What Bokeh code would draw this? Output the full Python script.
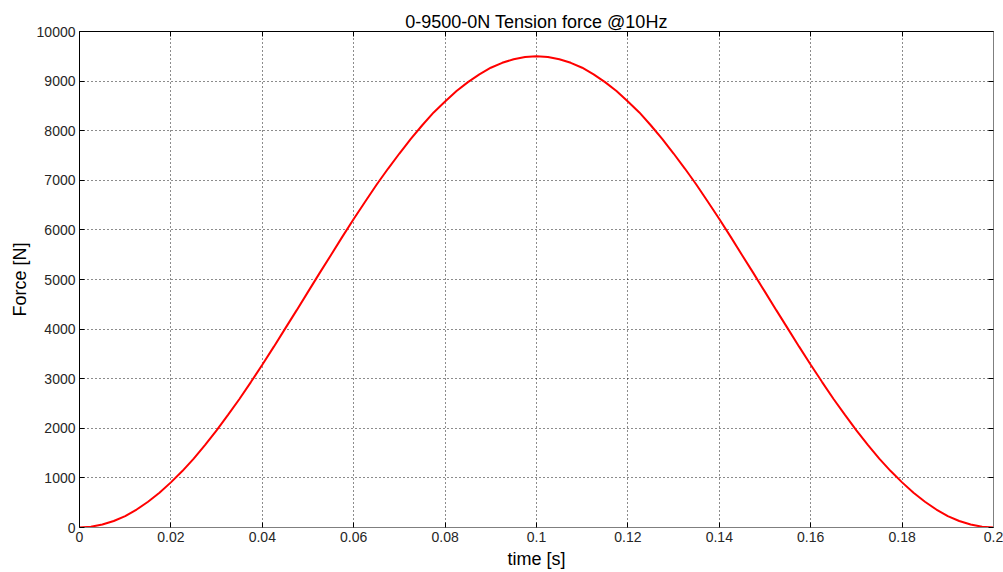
from bokeh.plotting import figure
from bokeh.models import LinearAxis, FixedTicker, Range1d
from bokeh.embed import file_html
from bokeh.resources import INLINE

title_text = "0-9500-0N Tension force @10Hz"
x_label = "time [s]"
y_label = "Force [N]"

time_s = [0.0, 0.0025, 0.005, 0.0075, 0.01, 0.0125, 0.015, 0.0175, 0.02, 0.0225,
          0.025, 0.0275, 0.03, 0.0325, 0.035, 0.0375, 0.04, 0.0425, 0.045, 0.0475,
          0.05, 0.0525, 0.055, 0.0575, 0.06, 0.0625, 0.065, 0.0675, 0.07, 0.0725,
          0.075, 0.0775, 0.08, 0.0825, 0.085, 0.0875, 0.09, 0.0925, 0.095, 0.0975,
          0.1, 0.1025, 0.105, 0.1075, 0.11, 0.1125, 0.115, 0.1175, 0.12, 0.1225,
          0.125, 0.1275, 0.13, 0.1325, 0.135, 0.1375, 0.14, 0.1425, 0.145, 0.1475,
          0.15, 0.1525, 0.155, 0.1575, 0.16, 0.1625, 0.165, 0.1675, 0.17, 0.1725,
          0.175, 0.1775, 0.18, 0.1825, 0.185, 0.1875, 0.19, 0.1925, 0.195, 0.1975,
          0.2]
force_n = [0, 15, 60, 131, 230, 362, 520, 700, 910, 1138,
           1390, 1665, 1960, 2269, 2590, 2932, 3280, 3641, 4010, 4377,
           4750, 5123, 5490, 5859, 6220, 6568, 6910, 7232, 7540, 7835,
           8110, 8368, 8590, 8800, 8980, 9136, 9270, 9369, 9440, 9485,
           9500, 9485, 9440, 9369, 9270, 9136, 8980, 8800, 8590, 8368,
           8110, 7835, 7540, 7232, 6910, 6568, 6220, 5859, 5490, 5123,
           4750, 4377, 4010, 3641, 3280, 2932, 2590, 2269, 1960, 1665,
           1390, 1138, 910, 700, 520, 362, 230, 131, 60, 15,
           0]

x_ticks = [0.0, 0.02, 0.04, 0.06, 0.08, 0.1, 0.12, 0.14, 0.16, 0.18, 0.2]
x_tick_labels = ["0", "0.02", "0.04", "0.06", "0.08", "0.1", "0.12", "0.14", "0.16", "0.18", "0.2"]
y_ticks = [0, 1000, 2000, 3000, 4000, 5000, 6000, 7000, 8000, 9000, 10000]
y_tick_labels = [str(v) for v in y_ticks]

FONT = "Liberation Sans"

p = figure(width=1003, height=572, output_backend="svg", toolbar_location=None,
           x_range=Range1d(0, 0.2), y_range=Range1d(0, 10000),
           x_axis_location=None, y_axis_location=None,
           min_border_left=79, min_border_right=10, min_border_top=31, min_border_bottom=45,
           title=title_text)
p.title.align = "center"
p.title.text_font = FONT
p.title.text_font_size = "18px"
p.title.text_font_style = "normal"
p.title.text_color = "#000000"
p.title.offset = 0
p.title.standoff = 0
p.outline_line_color = None
p.background_fill_color = "white"
p.border_fill_color = "white"


def style_axis(ax, ticks, labels, line_color, show_labels=True, label=None):
    ax.ticker = FixedTicker(ticks=ticks)
    ax.major_tick_in = 5
    ax.major_tick_out = 0
    ax.minor_tick_in = 0
    ax.minor_tick_out = 0
    ax.major_tick_line_color = "#000000"
    ax.axis_line_color = line_color
    ax.axis_line_width = 1
    ax.major_label_text_font = FONT
    ax.major_label_text_font_size = "14px"
    ax.major_label_text_color = "#262626"
    ax.major_label_standoff = 4
    if show_labels:
        ax.major_label_overrides = {t: l for t, l in zip(ticks, labels)}
    else:
        ax.major_label_overrides = {t: "" for t in ticks}
        ax.major_label_text_color = None
        ax.major_label_standoff = 0
    if label:
        ax.axis_label = label
        ax.axis_label_text_font = FONT
        ax.axis_label_text_font_size = "18px"
        ax.axis_label_text_font_style = "normal"
        ax.axis_label_text_color = "#000000"
        ax.axis_label_standoff = 4


bottom = LinearAxis()
style_axis(bottom, x_ticks, x_tick_labels, "#7f7f7f", True, x_label)
p.add_layout(bottom, "below")

left = LinearAxis()
style_axis(left, y_ticks, y_tick_labels, "#000000", True, y_label)
p.add_layout(left, "left")

top = LinearAxis()
style_axis(top, x_ticks, x_tick_labels, "#000000", False)
p.add_layout(top, "above")

right = LinearAxis()
style_axis(right, y_ticks, y_tick_labels, "#7f7f7f", False)
p.add_layout(right, "right")

p.xgrid.ticker = FixedTicker(ticks=x_ticks)
p.ygrid.ticker = FixedTicker(ticks=y_ticks)
for g in (p.xgrid, p.ygrid):
    g.grid_line_color = "#000000"
    g.grid_line_dash = "1 3"
    g.grid_line_width = 1
    g.grid_line_alpha = 0.9

p.line(time_s, force_n, line_color="#ff0000", line_width=2)

open("out.html", "w").write(file_html(p, INLINE))
